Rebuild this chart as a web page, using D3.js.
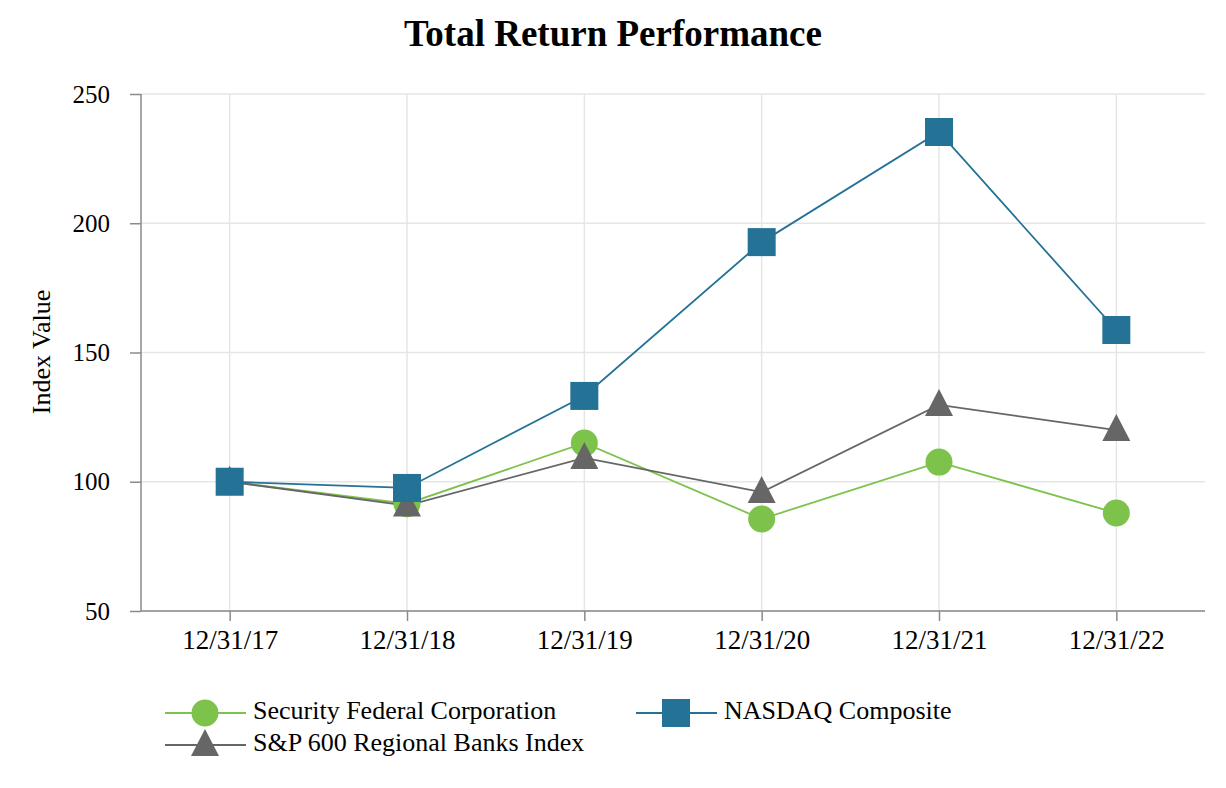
<!DOCTYPE html>
<html><head><meta charset="utf-8">
<script src="https://cdn.jsdelivr.net/npm/d3@7"></script>
<style>body{margin:0;background:#fff}svg{display:block}text{font-family:"Liberation Serif","Times New Roman",serif}</style>
</head><body>
<svg id="c" width="1226" height="788"></svg>
<script>
const categories = ["12/31/17","12/31/18","12/31/19","12/31/20","12/31/21","12/31/22"];
const securityFederal = [100, 91.5, 115, 85.6, 107.6, 87.9];
const nasdaq = [100, 97.6, 133.2, 192.7, 235.3, 158.7];
const sp600Banks = [100, 90.8, 109.2, 96, 129.7, 120];
const yTicks = [50, 100, 150, 200, 250];
const seriesNames = ["Security Federal Corporation", "NASDAQ Composite", "S&P 600 Regional Banks Index"];

const series = [
  {name: seriesNames[0], values: securityFederal, color: "#7dc24b", shape: "circle"},
  {name: seriesNames[1], values: nasdaq, color: "#247296", shape: "square"},
  {name: seriesNames[2], values: sp600Banks, color: "#666666", shape: "triangle"}
];

const svg = d3.select("#c");
const L = 141, R = 1205, T = 94, B = 611;
const x = d3.scalePoint().domain(categories).range([L, R]).padding(0.5);
const y = d3.scaleLinear().domain([50, 250]).range([B, T]);

svg.append("text").attr("x", 613).attr("y", 46).attr("text-anchor", "middle")
  .attr("font-size", 37).attr("font-weight", "bold").text("Total Return Performance");

// grid
const g = svg.append("g");
g.selectAll(".hg").data(yTicks).join("line").attr("x1", L).attr("x2", R)
  .attr("y1", d => y(d)).attr("y2", d => y(d)).attr("stroke", "#e6e6e6").attr("stroke-width", 1.5);
g.selectAll(".vg").data(categories).join("line").attr("y1", T).attr("y2", B)
  .attr("x1", d => x(d)).attr("x2", d => x(d)).attr("stroke", "#e6e6e6").attr("stroke-width", 1.5);

// axes
const ya = svg.append("g").attr("transform", `translate(${L},0)`)
  .call(d3.axisLeft(y).tickValues(yTicks).tickSize(11).tickPadding(20));
const xa = svg.append("g").attr("transform", `translate(0,${B})`)
  .call(d3.axisBottom(x).tickSize(10).tickPadding(9));
[ya, xa].forEach(a => {
  a.select(".domain").attr("stroke", "#8a8a8a").attr("stroke-width", 1.5);
  a.selectAll(".tick line").attr("stroke", "#8a8a8a").attr("stroke-width", 1.5);
  a.selectAll("text").attr("fill", "#000").attr("font-family", "Liberation Serif");
});
ya.selectAll("text").attr("font-size", 25);
xa.selectAll("text").attr("font-size", 27);
ya.select(".domain").attr("d", `M0,${T}V${B}`);
xa.select(".domain").attr("d", `M${L},0H${R}`);

svg.append("text").attr("transform", "translate(50,352) rotate(-90)").attr("text-anchor", "middle")
  .attr("font-size", 26).text("Index Value");

function marker(sel, shape, color) {
  if (shape === "circle") sel.append("ellipse").attr("rx", 13.5).attr("ry", 13.5).attr("fill", color);
  else if (shape === "square") sel.append("rect").attr("x", -14).attr("y", -14).attr("width", 28).attr("height", 28).attr("fill", color);
  else sel.append("path").attr("d", "M0,-16L14,11L-14,11Z").attr("fill", color);
}

const line = d3.line().x((d, i) => x(categories[i])).y(d => y(d));
const drawOrder = [0, 2, 1];
drawOrder.forEach(k => {
  const s = series[k];
  svg.append("path").attr("d", line(s.values)).attr("fill", "none").attr("stroke", s.color).attr("stroke-width", 1.8);
});
drawOrder.forEach(k => {
  const s = series[k];
  s.values.forEach((v, i) => {
    const m = svg.append("g").attr("transform", `translate(${x(categories[i])},${y(v)})`);
    marker(m, s.shape, s.color);
  });
});

// legend
const legendPos = [[165, 713], [636, 713], [165, 745]];
series.forEach((s, k) => {
  const [lx, ly] = legendPos[k];
  const lg = svg.append("g").attr("transform", `translate(${lx},${ly})`);
  lg.append("line").attr("x1", 0).attr("x2", 81).attr("stroke", s.color).attr("stroke-width", 1.8);
  const m = lg.append("g").attr("transform", "translate(40,0)");
  marker(m, s.shape, s.color);
  lg.append("text").attr("x", 88).attr("y", 6).attr("font-size", 26).text(s.name);
});
</script>
</body></html>
